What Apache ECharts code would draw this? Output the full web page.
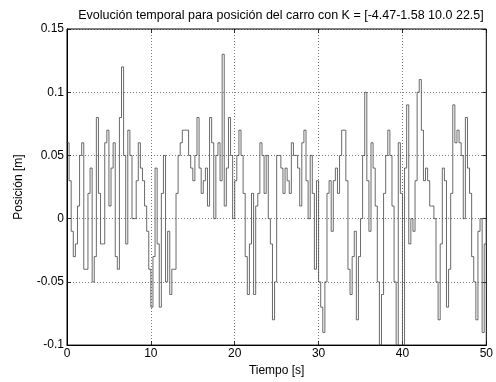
<!DOCTYPE html>
<html>
<head>
<meta charset="utf-8">
<script src="https://cdn.jsdelivr.net/npm/echarts@6/dist/echarts.min.js"></script>
<style>
  html, body { margin: 0; padding: 0; background: #fff; }
  #main { width: 496px; height: 382px; }
</style>
</head>
<body>
<div id="main"></div>
<script>
// sample step (s) and cart position
const dt = 0.25;
const posicion = [
  0.06, 0.03, -0.01, -0.03, -0.02, 0.01, 0.05, 0.06,
  -0.04, -0.04, 0.02, 0.04, -0.05, -0.03, 0.08, 0.02,
  -0.02, -0.02, 0.06, 0.07, 0.01, 0.04, 0.06, -0.03,
  -0.04, 0.08, 0.12, 0.05, -0.02, 0.07, 0.05, 0.0,
  0.0, 0.03, 0.06, 0.04, 0.03, 0.01, -0.01, -0.04,
  -0.07, -0.03, 0.04, -0.02, -0.07, 0.02, 0.05, -0.05,
  -0.01, -0.06, -0.04, -0.04, 0.02, 0.05, 0.06, 0.07,
  0.07, 0.07, 0.05, 0.04, 0.03, 0.05, 0.08, 0.04,
  0.02, 0.03, 0.04, 0.01, 0.08, 0.06, 0.0, 0.05,
  0.06, 0.03, 0.13, 0.01, 0.04, 0.08, 0.05, 0.0,
  0.03, 0.05, 0.07, 0.05, 0.02, -0.03, -0.06, -0.02,
  0.02, -0.06, 0.01, 0.02, 0.06, 0.05, 0.02, 0.05,
  0.0, -0.02, -0.08, -0.05, 0.05, 0.05, 0.04, 0.02,
  0.04, 0.03, 0.02, 0.06, 0.05, 0.05, 0.04, 0.01,
  0.06, 0.07, 0.03, 0.0, 0.05, 0.02, -0.04, 0.03,
  -0.05, -0.07, -0.09, -0.05, 0.02, 0.03, -0.01, 0.03,
  0.04, 0.02, 0.05, 0.07, 0.07, 0.03, -0.04, -0.06,
  -0.03, -0.01, -0.08, -0.03, 0.0, 0.05, 0.1, 0.03,
  -0.01, 0.06, 0.04, 0.01, -0.05, -0.1, -0.06, 0.02,
  0.05, 0.07, 0.05, 0.01, -0.05, -0.1, 0.06, 0.02,
  -0.1, 0.04, 0.09, -0.02, 0.0, -0.01, 0.03, 0.1,
  0.11, 0.07, 0.03, 0.04, 0.03, 0.01, 0.01, 0.0,
  -0.05, -0.08, -0.02, 0.04, 0.03, -0.07, -0.04, 0.02,
  0.09, 0.06, 0.07, 0.06, 0.05, 0.0, 0.08, 0.04,
  0.02, -0.03, -0.05, -0.08, -0.01, 0.0, -0.09, -0.02,
  0.0
];
const tiempo = posicion.map((_, i) => i * dt);
const xTicks = [0, 10, 20, 30, 40, 50];
const yTicks = [-0.1, -0.05, 0, 0.05, 0.1, 0.15];

const font = 'Liberation Sans, Arial, sans-serif';
const chart = echarts.init(document.getElementById('main'));

const gridLine = { show: true, lineStyle: { color: '#222', type: [1, 2], width: 0.6 } };
const tickIn = { show: true, inside: true, length: 4, lineStyle: { color: '#000', width: 0.8 } };

chart.setOption({
  animation: false,
  backgroundColor: '#fff',
  title: {
    text: 'Evolución temporal para posición del carro con K = [-4.47-1.58 10.0 22.5]',
    left: 276,
    top: 4,
    textAlign: 'center',
    textStyle: { fontFamily: font, fontSize: 12.5, fontWeight: 'normal', color: '#000' }
  },
  grid: {
    left: 67, right: 9, top: 29, bottom: 34,
    show: true, borderColor: '#000', borderWidth: 1, backgroundColor: '#fff'
  },
  xAxis: [{
    type: 'value', min: xTicks[0], max: xTicks[xTicks.length - 1], interval: 10,
    name: 'Tiempo [s]', nameLocation: 'middle', nameGap: 18,
    nameTextStyle: { fontFamily: font, fontSize: 12, color: '#000' },
    axisLine: { show: true, onZero: false, lineStyle: { color: '#000', width: 1 } },
    axisTick: tickIn,
    axisLabel: { fontFamily: font, fontSize: 12, color: '#000', margin: 3 },
    splitLine: gridLine
  }, {
    type: 'value', position: 'top', min: 0, max: 50, interval: 10,
    axisLine: { show: false, onZero: false }, axisTick: tickIn,
    axisLabel: { show: false }, splitLine: { show: false }
  }],
  yAxis: [{
    type: 'value', min: yTicks[0], max: yTicks[yTicks.length - 1], interval: 0.05,
    name: 'Posición [m]', nameLocation: 'middle', nameGap: 42,
    nameTextStyle: { fontFamily: font, fontSize: 12, color: '#000' },
    axisLine: { show: true, onZero: false, lineStyle: { color: '#000', width: 1 } },
    axisTick: tickIn,
    axisLabel: {
      fontFamily: font, fontSize: 12, color: '#000', margin: 3,
      formatter: v => String(Math.round(v * 100) / 100)
    },
    splitLine: gridLine
  }, {
    type: 'value', position: 'right', min: -0.1, max: 0.15, interval: 0.05,
    axisLine: { show: false, onZero: false }, axisTick: tickIn,
    axisLabel: { show: false }, splitLine: { show: false }
  }],
  series: [{
    type: 'line',
    step: 'end',
    data: tiempo.map((t, i) => [t, posicion[i]]),
    showSymbol: false,
    lineStyle: { color: '#444', width: 0.8 }
  }]
});
</script>
</body>
</html>
